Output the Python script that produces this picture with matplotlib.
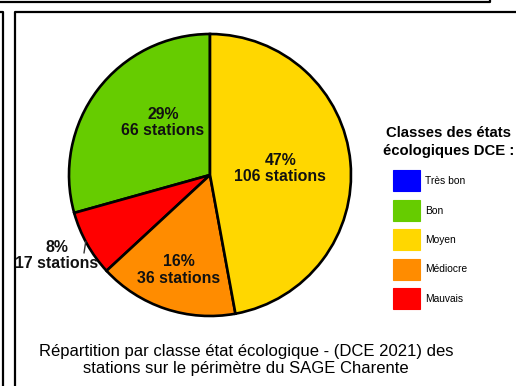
import numpy as np
import matplotlib
matplotlib.use("Agg")
import matplotlib.pyplot as plt
from matplotlib.patches import Rectangle

# Ecological status classes (DCE 2021) and number of stations per class
classes = ["Très bon", "Bon", "Moyen", "Médiocre", "Mauvais"]
class_colors = ["#0000FF", "#66CC00", "#FFD700", "#FF8C00", "#FF0000"]

pie_classes = ["Bon", "Mauvais", "Médiocre", "Moyen"]
stations = [66, 17, 36, 106]

legend_title = "Classes des états\nécologiques DCE :"
caption = ("Répartition par classe état écologique - (DCE 2021) des\n"
           "stations sur le périmètre du SAGE Charente")

plt.rcParams["font.family"] = ["Liberation Sans", "DejaVu Sans"]

W, H = 516, 386
fig = plt.figure(figsize=(W / 100, H / 100), dpi=100)
ax = fig.add_axes([0, 0, 1, 1])

color_of = dict(zip(classes, class_colors))
cx, cy, R = 210, H - 175, 141

wedges, _ = ax.pie(
    stations,
    colors=[color_of[c] for c in pie_classes],
    startangle=90,
    counterclock=True,
    center=(cx, cy),
    radius=R,
    wedgeprops=dict(edgecolor="black", linewidth=1.9),
)

# label placement per slice: (radius fraction, angular offset in degrees)
label_place = {"Bon": (0.50, -11), "Mauvais": (1.23, -1.5),
               "Médiocre": (0.71, 0), "Moyen": (0.50, 0)}
total = sum(stations)
for w, name, n in zip(wedges, pie_classes, stations):
    pct = round(100 * n / total)
    mid = (w.theta1 + w.theta2) / 2
    rf, dth = label_place[name]
    a = np.radians(mid + dth)
    tx, ty = cx + rf * R * np.cos(a), cy + rf * R * np.sin(a)
    ax.text(tx, ty, f"{pct}%\n{n} stations", ha="center", va="center",
            fontsize=11.4, fontweight="bold", linespacing=1.12, color="#111111")
    if rf > 1:
        a0 = np.radians(mid - 1)
        a1 = np.radians(mid + 2.5)
        ax.plot([cx + 1.00 * R * np.cos(a0), cx + 1.05 * R * np.cos(a1)],
                [cy + 1.00 * R * np.sin(a0), cy + 1.05 * R * np.sin(a1)],
                color="#333333", lw=1.0)

# legend
ax.text(449, H - 142, legend_title, ha="center", va="center",
        fontsize=10.7, fontweight="bold", linespacing=1.3)
for i, (c, col) in enumerate(zip(classes, class_colors)):
    top = 170 + i * 29.5
    ax.add_patch(Rectangle((393, H - top - 21), 27, 21, facecolor=col,
                           edgecolor=col, alpha=1.0, lw=0.8))
    ax.text(425, H - top - 11, c, ha="left", va="center", fontsize=7.4)

# caption
ax.text(246, H - 360, caption, ha="center", va="center",
        fontsize=12, linespacing=1.2)

# frame lines
k = dict(color="black", lw=1.6, solid_capstyle="butt")
ax.plot([0, 490, 490], [H - 1.5, H - 1.5, H], **k)
ax.plot([0, 3, 3], [H - 11.5, H - 11.5, 0], **k)
ax.plot([W, 15, 15], [H - 11.5, H - 11.5, 0], **k)

ax.set_xlim(0, W)
ax.set_ylim(0, H)
ax.set_aspect("auto")
ax.axis("off")

fig.savefig("out.png", dpi=100, facecolor="white")
